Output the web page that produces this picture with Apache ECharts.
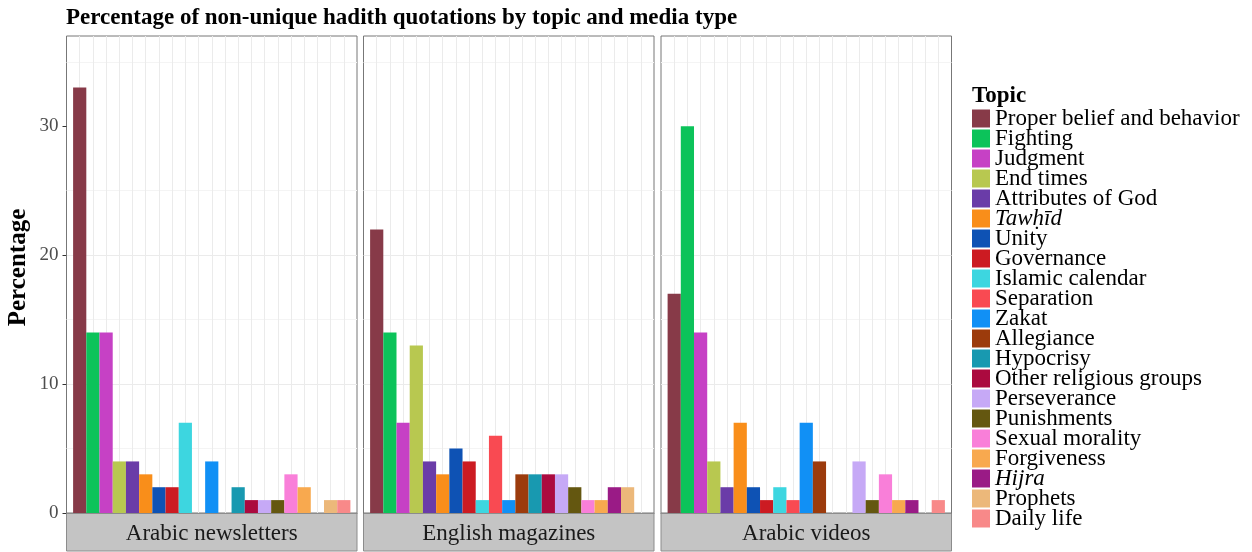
<!DOCTYPE html>
<html>
<head>
<meta charset="utf-8">
<script src="https://cdn.jsdelivr.net/npm/echarts@6/dist/echarts.min.js"></script>
<style>
  html, body { margin: 0; padding: 0; background: #fff; }
  #chart { width: 1252px; height: 552px; }
</style>
</head>
<body>
<div id="chart"></div>
<script>
// Topics, in legend / bar order
const topics = [
  'Proper belief and behavior', 'Fighting', 'Judgment', 'End times', 'Attributes of God',
  'Tawḥīd', 'Unity', 'Governance', 'Islamic calendar', 'Separation', 'Zakat',
  'Allegiance', 'Hypocrisy', 'Other religious groups', 'Perseverance', 'Punishments',
  'Sexual morality', 'Forgiveness', 'Hijra', 'Prophets', 'Daily life'
];
const italicTopics = ['Tawḥīd', 'Hijra'];
const topicColors = [
  '#873a48', '#0cc35a', '#c641c5', '#b8c850', '#6a3ca8',
  '#f98e1a', '#0e52b4', '#cc1b22', '#3dd6e0', '#f94a52', '#1190f5',
  '#9c3b0c', '#1899b0', '#ab0a3f', '#c6a9f6', '#645710',
  '#f97fd9', '#f8a94f', '#9a1b86', '#ecb87a', '#f88989'
];

// Media types (facets)
const mediaTypes = ['Arabic newsletters', 'English magazines', 'Arabic videos'];

// Percentage of non-unique quotations per topic, one array per media type
const arabicNewsletters = [33, 14, 14, 4, 4, 3, 2, 2, 7, 0, 4, 0, 2, 1, 1, 1, 3, 2, 0, 1, 1];
const englishMagazines  = [22, 14, 7, 13, 4, 3, 5, 4, 1, 6, 1, 3, 3, 3, 3, 2, 1, 1, 2, 2, 0];
const arabicVideos      = [17, 30, 14, 4, 2, 7, 2, 1, 2, 1, 7, 4, 0, 0, 4, 1, 3, 1, 1, 0, 1];
const panelValues = [arabicNewsletters, englishMagazines, arabicVideos];

// Y axis ticks
const yTicks = [0, 10, 20, 30];

// Layout
const FONT = '"Liberation Serif", "Times New Roman", serif';
const PANEL_LEFT = [66.5, 363.5, 661];
const PANEL_W = 290.5;
const PANEL_TOP = 36;
const PANEL_H = 477;
const STRIP_H = 37.5;
const Y_MAX = 37;

const grids = [];
const xAxes = [];
const yAxes = [];
const series = [];
const graphics = [];

mediaTypes.forEach((media, i) => {
  grids.push({
    left: PANEL_LEFT[i], top: PANEL_TOP, width: PANEL_W, height: PANEL_H,
    show: true, backgroundColor: '#ffffff', borderColor: '#777777', borderWidth: 1
  });
  xAxes.push({
    type: 'value', gridIndex: i, min: 0, max: topics.length + 1, interval: 1,
    axisLabel: { show: false }, axisTick: { show: false },
    axisLine: { show: true, onZero: false, lineStyle: { color: '#333333', width: 1 } },
    splitLine: { show: true, showMinLine: false, showMaxLine: false, lineStyle: { color: '#ebebeb', width: 1 } }
  });
  yAxes.push({
    type: 'value', gridIndex: i, min: 0, max: Y_MAX, interval: 10,
    name: i === 0 ? 'Percentage' : '',
    nameLocation: 'middle', nameRotate: 90, nameGap: 35,
    nameTextStyle: {
      fontFamily: FONT, fontWeight: 'bold', fontSize: 25, color: '#000',
      padding: [0, 0, 0, 14]
    },
    axisLine: { show: false },
    axisTick: { show: i === 0, length: 4, customValues: yTicks, lineStyle: { color: '#333333' } },
    axisLabel: {
      show: i === 0, customValues: yTicks, margin: 8,
      fontFamily: FONT, fontSize: 19, color: '#4d4d4d'
    },
    splitLine: { show: true, showMinLine: false, showMaxLine: false, lineStyle: { color: '#ebebeb', width: 1 } },
    minorTick: { show: false, splitNumber: 2 },
    minorSplitLine: { show: true, lineStyle: { color: '#f4f4f4', width: 1 } }
  });
  series.push({
    type: 'bar', name: media, xAxisIndex: i, yAxisIndex: i,
    barWidth: '100%', silent: true,
    data: panelValues[i].map((v, k) => ({ value: [k + 1, v], itemStyle: { color: topicColors[k] } }))
  });
  // facet strip under each panel
  graphics.push({
    type: 'rect', z: 10,
    shape: { x: PANEL_LEFT[i], y: PANEL_TOP + PANEL_H + 0.5, width: PANEL_W, height: STRIP_H },
    style: { fill: '#c4c4c4', stroke: '#8c8c8c', lineWidth: 1 }
  });
  graphics.push({
    type: 'text', z: 11,
    x: PANEL_LEFT[i] + PANEL_W / 2, y: PANEL_TOP + PANEL_H + STRIP_H / 2 + 2.5,
    style: { text: media, align: 'center', verticalAlign: 'middle', font: '23px ' + FONT, fill: '#1a1a1a' }
  });
});

// Hidden grid carrying one empty series per topic so the legend lists topics
grids.push({ left: 0, top: 0, width: 1, height: 1, show: false });
xAxes.push({ type: 'value', gridIndex: 3, show: false });
yAxes.push({ type: 'value', gridIndex: 3, show: false });
topics.forEach((t, k) => {
  series.push({
    type: 'bar', name: t, xAxisIndex: 3, yAxisIndex: 3, data: [],
    itemStyle: { color: topicColors[k] }
  });
});

graphics.push({
  type: 'text', x: 972, y: 96,
  style: { text: 'Topic', align: 'left', verticalAlign: 'middle', font: 'bold 23px ' + FONT, fill: '#000' }
});

const option = {
  animation: false,
  backgroundColor: '#ffffff',
  title: {
    text: 'Percentage of non-unique hadith quotations by topic and media type',
    left: 66, top: 7, padding: 0,
    textStyle: { fontFamily: FONT, fontWeight: 'bold', fontSize: 23, color: '#000' }
  },
  legend: {
    orient: 'vertical', left: 972, top: 107, padding: 0,
    itemWidth: 18, itemHeight: 18, itemGap: -3, icon: 'rect',
    data: topics, selectedMode: false,
    formatter: name => italicTopics.includes(name) ? '{i|' + name + '}' : name,
    textStyle: {
      fontFamily: FONT, fontSize: 23, color: '#000',
      rich: { i: { fontFamily: FONT, fontSize: 23, fontStyle: 'italic', color: '#000' } }
    }
  },
  grid: grids,
  xAxis: xAxes,
  yAxis: yAxes,
  series: series,
  graphic: graphics
};

const chart = echarts.init(document.getElementById('chart'), null, { renderer: 'canvas' });
chart.setOption(option);
</script>
</body>
</html>
